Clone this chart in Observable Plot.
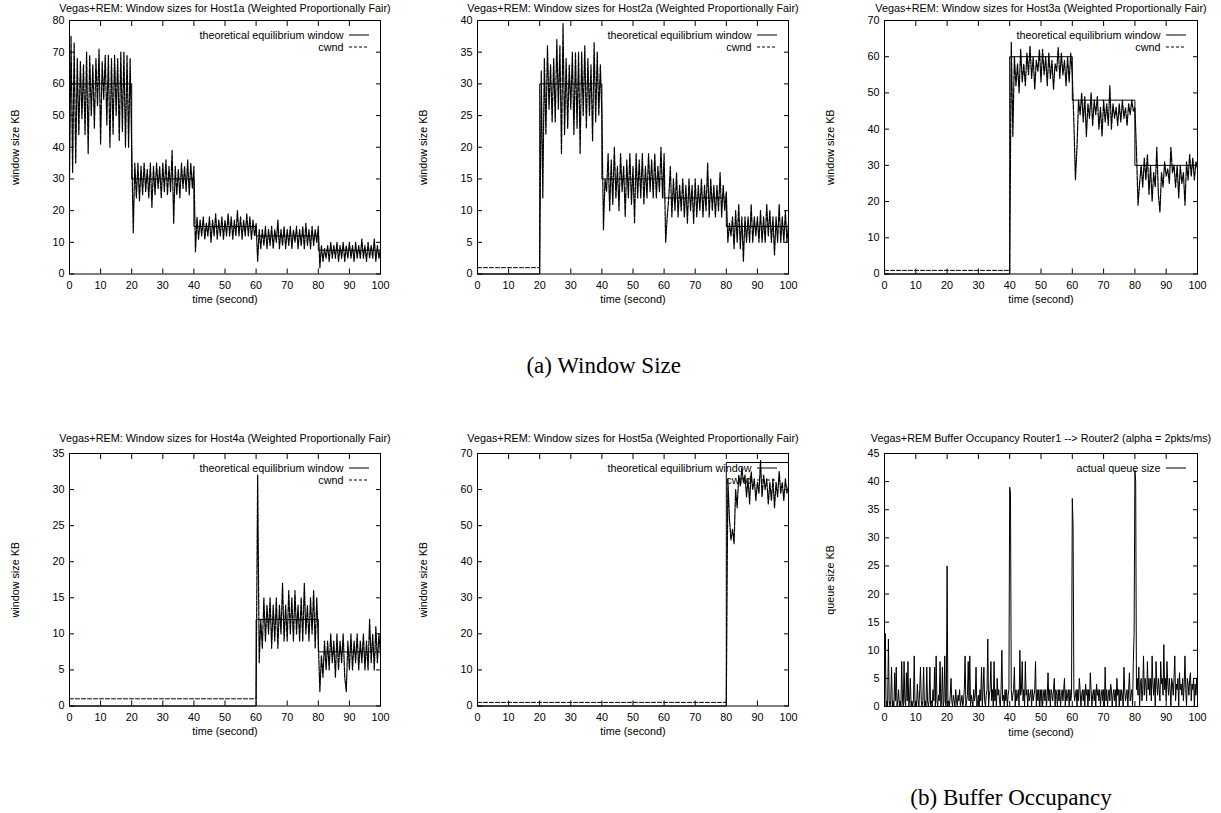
<!DOCTYPE html>
<html><head><meta charset="utf-8">
<script src="https://cdn.jsdelivr.net/npm/d3@7"></script>
<script src="https://cdn.jsdelivr.net/npm/@observablehq/plot@0.6"></script>
<style>
html,body{margin:0;padding:0;background:#fff;overflow:hidden;}
#page{position:relative;width:1221px;height:813px;}
.panel{position:absolute;}
.caption{position:absolute;font-family:"Liberation Serif","Times New Roman",serif;font-size:23px;line-height:1;white-space:nowrap;transform:translateX(-50%);color:#000;}
</style></head><body><div id="page"></div>
<script>
// ---------------- data ----------------
const STEP = 0.5;   // seconds between cwnd samples
const QSTEP = 0.25; // seconds between queue samples
const xTicks = [0,10,20,30,40,50,60,70,80,90,100];
const yTicks1 = [0,10,20,30,40,50,60,70,80];
const yTicks2 = [0,5,10,15,20,25,30,35,40];
const yTicks3 = [0,10,20,30,40,50,60,70];
const yTicks4 = [0,5,10,15,20,25,30,35];
const yTicks5 = [0,10,20,30,40,50,60,70];
const yTicks6 = [0,5,10,15,20,25,30,35,40,45];

const hostNames = ["Host1a","Host2a","Host3a","Host4a","Host5a"];
const cwndStart = [0,20,40,60,80];
const idleLevel = 1;

const theoryT1 = [0,20,40,60,80,100], theoryV1 = [60,30,15,12,7.5,7.5];
const theoryT2 = [0,20,40,60,80,100], theoryV2 = [0,30,15,12,7.5,7.5];
const theoryT3 = [0,40,60,80,100],    theoryV3 = [0,60,48,30,30];
const theoryT4 = [0,60,80,100],       theoryV4 = [0,12,7.5,7.5];
const theoryT5 = [0,80,100],          theoryV5 = [0,67.5,67.5];

const cwnd1 = [30,75,32,73,35,68,44,67,49,66,44,70,38,69,50,66,46,68,53,71,41,67,55,69,47,69,40,68,44,69,50,68,42,70,45,70,40,69,40,68,40,
  13,35,24,35,23,34,25,35,26,33,24,35,21,34,25,35,27,34,24,35,26,36,25,34,26,39,16,34,25,33,24,35,27,34,26,36,25,35,27,34,
  7,18,11,17,12,18,11,16,12,18,10,17,12,19,11,17,12,18,11,17,12,19,12,18,11,17,12,20,12,18,11,17,12,19,12,18,11,17,12,16,
  4,14,8,14,9,15,8,14,9,15,8,14,10,17,8,14,9,15,8,14,9,15,8,14,10,15,8,14,9,15,8,16,9,14,8,15,9,14,10,15,
  2,9,4,8,5,9,4,10,5,9,5,10,4,9,5,10,4,9,5,10,5,9,4,10,5,9,5,11,5,9,4,10,5,9,5,11,4,9,5,8];
const cwnd2 = [1,32,12,34,22,36,26,33,24,34,24,37,26,36,19,39.5,22,34,23,33,26,35,22,35,23,35,19,35,25,36,23,34,25,33,21,36.5,24,35,25,33,25,
  7,15,13,19,10,18,11,20,12,17,10,19,13,17,9,18,12,19,11,17,8,19,12,18,12,19,11,17,12,19,13,18,12,19,12,17,13,20,12,19,
  5,9,12,17,9,15,10,16,9,14,10,15,9,14,8,15,10,14,8,15,9,14,10,15,9,14,10,17.5,9,15,10,14,9,14,10,16,9,14,10,13,
  5,8,6,9,4,10,5,11,4,9,2,9,5,9,5,11,5,9,6,9,5,10,5,9,5,11,6,10,5,9,3,9,5,11,5,9,5,10,5,8];
const cwnd3 = [1,64,38,60,52,58,50,62,53,58,52,61,55,63,54,60,51,59,56,62,53,62,55,60,52,61,54,59,51,58,56,62.5,54,61,55,59,52,60,53,61,55,
  42,26,35,48,44,50,42,49,38,47,43,50,41,48,44,49,40,46,38,48,42,47,41,52,40,47,43,46,41,47,42,48,43,46,41,47,44,48,45,46,
  34,19,25,30,24,32,26,33,22,30,20,28,24,35,22,17,28,24,31,27,29,25,35,28,30,24,30,21,30,25,28,19,31,26,33,27,32,26,31,29];
const cwnd4 = [1,32,6,12,8,15,9,14,10,15,8,14,9,15,8,14,10,17,9,14,9,16,10,15,9,16,10,14,9,15,9,17,10,14,9,15,10,16,8,15,9,
  2,7,4,9,5,9,5,10,6,9,4,10,5,9,6,10,4,2,9,5,10,5,9,6,10,5,9,6,10,5,9,5,12,6,10,5,11,6,10,7];
const cwnd5 = [1,63,52,46,49,45,60,55,64,61,66,62,64,58,63,56,65,60,63,57,62,59,68,58,64,60,63,56,62,57,63,55,62,58,65,59,62,57,63,59,61];

const queue = [
  0,13,0,1,0,12,1,0,1,7,0,1,0,6,1,7,0,1,3,0,
  1,0,8,1,0,8,1,0,6,1,8,0,1,5,0,1,0,1,9,0,
  1,0,4,1,0,3,7,1,0,1,7,0,1,0,7,1,0,1,7,0,
  1,0,3,1,7,0,9,1,0,2,1,8,0,1,7,0,1,9,0,1,
  25,0,1,0,2,5,1,0,2,1,0,3,1,0,2,1,3,0,1,2,
  0,1,3,9,0,1,2,8,1,9,0,2,1,0,3,1,2,7,0,1,
  2,0,3,1,7,0,3,7,1,0,2,3,12,0,2,3,8,1,3,0,
  8,1,3,0,5,2,3,1,0,3,10,1,2,0,3,1,3,0,2,3,
  39,38,3,1,2,3,7,0,3,1,2,3,0,10,2,3,8,1,3,0,
  8,2,3,0,3,1,2,3,0,3,1,2,3,8,0,3,1,3,0,3,
  1,3,0,2,3,1,3,0,2,6,1,3,0,3,2,1,3,5,0,3,
  2,0,3,1,3,0,2,3,1,3,5,0,3,1,2,3,0,3,1,2,
  37,32,3,1,2,3,0,3,1,5,3,0,2,3,1,3,0,4,2,3,
  0,3,1,6,3,0,2,3,1,3,0,4,2,3,1,3,0,2,3,1,
  3,0,7,1,3,0,2,3,1,4,3,0,2,3,1,3,0,5,2,3,
  0,3,1,3,2,0,7,3,1,2,3,0,3,6,1,2,3,0,8,13,
  42,40,3,5,2,7,0,4,5,1,3,9,2,5,4,1,8,3,5,2,
  5,1,9,4,2,5,0,8,4,2,5,3,1,8,4,5,2,11,3,5,
  1,8,4,2,5,3,0,5,4,2,5,9,1,4,3,5,0,6,3,4,
  2,5,1,4,9,3,0,5,4,2,5,6,1,4,3,5,0,4,2,5,
  2];

// ---------------- layout ----------------
const FONT = '"Liberation Sans", Arial, Helvetica, sans-serif';
const FS = 10.8;
const page = document.getElementById("page");
const layouts = [
  {L:69,  R:380,  T:19.5, B:273,   titleDy:-12},
  {L:477, R:788,  T:19.5, B:273,   titleDy:-12},
  {L:884, R:1197, T:19.5, B:273,   titleDy:-12},
  {L:69,  R:380,  T:453,  B:705.5, titleDy:-14.5},
  {L:477, R:788,  T:453,  B:705.5, titleDy:-14.5},
  {L:884, R:1197, T:452.5,B:705.5, titleDy:-14.5}
];

function series(values, start, step) {
  return values.map((v, i) => ({t: start + i * step, v}));
}
function pairs(ts, vs) { return ts.map((t, i) => ({t, v: vs[i]})); }

function makePanel(p) {
  const lay = p.lay;
  const ml = 69, mr = 24, mt = 20, mb = 34;
  const w = lay.R - lay.L + ml + mr;
  const h = lay.B - lay.T + mt + mb;
  const legendMarks = [];
  p.legend.forEach((item, row) => {
    legendMarks.push(Plot.text([item.label], {text: d => d, frameAnchor: "top-right", textAnchor: "end", lineAnchor: "middle", dx: -37, dy: 15 + row * 12, fontSize: FS, fill: "black"}));
    legendMarks.push(() => {
      const y = mt + 15 + row * 12;
      const ln = d3.create("svg:line")
        .attr("x1", w - mr - 31).attr("x2", w - mr - 11)
        .attr("y1", y).attr("y2", y)
        .attr("stroke", "black").attr("stroke-width", 1);
      if (item.dash) ln.attr("stroke-dasharray", item.dash);
      return ln.node();
    });
  });
  const tickOpts = {tickSize: -5, tickFormat: () => "", label: null, stroke: "black"};
  const chart = Plot.plot({
    width: w, height: h,
    marginLeft: ml, marginRight: mr, marginTop: mt, marginBottom: mb,
    style: {fontFamily: FONT, fontSize: FS + "px", background: "transparent", color: "black"},
    x: {domain: [0, 100]},
    y: {domain: [0, p.ymax]},
    marks: [
      Plot.frame({stroke: "black", strokeWidth: 1}),
      Plot.axisX({anchor: "bottom", ticks: xTicks, ...tickOpts}),
      Plot.axisX({anchor: "top", ticks: xTicks, ...tickOpts}),
      Plot.axisY({anchor: "left", ticks: p.yTicks, ...tickOpts}),
      Plot.axisY({anchor: "right", ticks: p.yTicks, ...tickOpts}),
      Plot.axisX({anchor: "bottom", ticks: xTicks, tickSize: 0, tickPadding: 7, fontSize: FS, label: "time (second)", labelAnchor: "center", labelOffset: 29, labelArrow: "none"}),
      Plot.axisY({anchor: "left", ticks: p.yTicks, tickSize: 0, tickPadding: 5, fontSize: FS, label: p.ylabel, labelAnchor: "center", labelOffset: 58, labelArrow: "none"}),
      Plot.text([p.title], {text: d => d, frameAnchor: "top", lineAnchor: "middle", dy: lay.titleDy, fontSize: FS, fill: "black"}),
      ...legendMarks,
      ...p.marks
    ]
  });
  const div = document.createElement("div");
  div.className = "panel";
  div.style.left = (lay.L - ml) + "px";
  div.style.top = (lay.T - mt) + "px";
  div.style.width = w + "px";
  div.style.height = h + "px";
  div.appendChild(chart);
  page.appendChild(div);
}

const cwndArrays = [cwnd1, cwnd2, cwnd3, cwnd4, cwnd5];
const theoryTs = [theoryT1, theoryT2, theoryT3, theoryT4, theoryT5];
const theoryVs = [theoryV1, theoryV2, theoryV3, theoryV4, theoryV5];
const yTicksAll = [yTicks1, yTicks2, yTicks3, yTicks4, yTicks5];

for (let k = 0; k < 5; k++) {
  const start = cwndStart[k];
  const lineMarks = [
    Plot.line(pairs(theoryTs[k], theoryVs[k]), {x: "t", y: "v", curve: "step-after", stroke: "black", strokeWidth: 1})
  ];
  if (start > 0) {
    lineMarks.push(Plot.line(pairs([0, start], [idleLevel, idleLevel]), {x: "t", y: "v", stroke: "black", strokeWidth: 1, strokeDasharray: "4,2"}));
  }
  lineMarks.push(Plot.line(series(cwndArrays[k], start, STEP), {x: "t", y: "v", stroke: "black", strokeWidth: 1.2, strokeDasharray: "5,1.2"}));
  makePanel({
    lay: layouts[k],
    title: `Vegas+REM: Window sizes for ${hostNames[k]} (Weighted Proportionally Fair)`,
    ylabel: "window size KB",
    ymax: yTicksAll[k][yTicksAll[k].length - 1],
    yTicks: yTicksAll[k],
    legend: [{label: "theoretical equilibrium window", dash: null}, {label: "cwnd", dash: "3,2"}],
    marks: lineMarks
  });
}

makePanel({
  lay: layouts[5],
  title: "Vegas+REM Buffer Occupancy Router1 --> Router2 (alpha = 2pkts/ms)",
  ylabel: "queue size KB",
  ymax: 45,
  yTicks: yTicks6,
  legend: [{label: "actual queue size", dash: null}],
  marks: [Plot.line(series(queue, 0, QSTEP), {x: "t", y: "v", stroke: "black", strokeWidth: 1})]
});

// captions
const capA = document.createElement("div");
capA.className = "caption"; capA.textContent = "(a) Window Size";
capA.style.left = "603.7px"; capA.style.top = "353.7px";
page.appendChild(capA);
const capB = document.createElement("div");
capB.className = "caption"; capB.textContent = "(b) Buffer Occupancy";
capB.style.left = "1011px"; capB.style.top = "785.7px";
page.appendChild(capB);
</script>
</body></html>
